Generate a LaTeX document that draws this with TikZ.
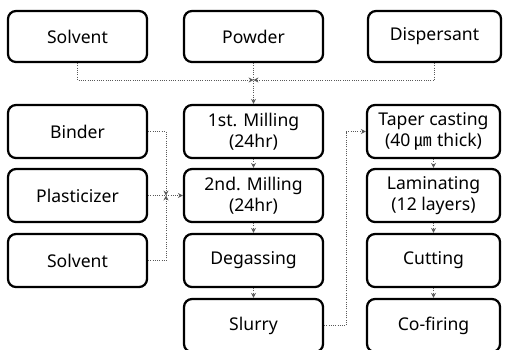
\documentclass[tikz,border=0pt]{standalone}
\usepackage{fontspec}
\setmainfont{Noto Sans}
\newfontfamily\cjk{Noto Sans CJK KR}
\usetikzlibrary{arrows.meta,calc,positioning}

\begin{document}
\begin{tikzpicture}[x=0.25mm,y=-0.25mm,>={Stealth[length=3.5pt,width=3.5pt]},
  stepbox/.style={draw,line width=1.6pt,rounded corners=2mm,minimum width=34.75mm,
    minimum height=13.25mm,align=center,inner sep=1pt,
    font=\fontsize{12.5}{15}\selectfont},
  flow/.style={black!65,densely dotted,line width=0.6pt}]
\useasboundingbox (0,0) rectangle (507,349);

% =========================================================
% Raw materials
% =========================================================
\node[stepbox,minimum height=12.75mm] (solventTop) at (77.5,36.5) {Solvent};
\node[stepbox,minimum height=12.75mm] (powder) at (253.5,36.5) {Powder};
\node[stepbox,minimum height=12.75mm,minimum width=33.25mm] (dispersant) at (434.5,36.5) {Dispersant};

% Additives
\node[stepbox] (binder) at (77.5,131.5) {Binder};
\node[stepbox] (plasticizer) at (77.5,195.5) {Plasticizer};
\node[stepbox] (solventSide) at (77.5,260.5) {Solvent};

% =========================================================
% Slurry preparation
% =========================================================
\node[stepbox] (mill1) at (253.5,131.5) {1st. Milling\\(24hr)};
\node[stepbox] (mill2) at (253.5,195.5) {2nd. Milling\\(24hr)};
\node[stepbox] (degas) at (253.5,260.5) {Degassing};
\node[stepbox] (slurry) at (253.5,325.5) {Slurry};

% Sheet process
\node[stepbox,minimum width=33.25mm] (taper) at (433.5,131.5) {Taper casting\\(40 {\cjk ㎛} thick)};
\node[stepbox,minimum width=33.25mm] (laminate) at (433.5,195.5) {Laminating\\(12 layers)};
\node[stepbox,minimum width=33.25mm] (cutting) at (433.5,260.5) {Cutting};
\node[stepbox,minimum width=33.25mm] (cofire) at (433.5,325.5) {Co-firing};

% Joins
\coordinate (topJoin) at (253.5,80);
\coordinate (sideJoin) at (166,195.5);

\draw[flow,->] (solventTop.south) |- (topJoin);
\draw[flow,->] (dispersant.south) |- (topJoin);
\draw[flow,->] (powder) -- (mill1);

\draw[flow,->] (binder.east) -| (sideJoin);
\draw[flow,->] (solventSide.east) -| (sideJoin);
\draw[flow,->] (plasticizer) -- (mill2);

% Steps
\foreach \a/\b in {mill1/mill2,mill2/degas,degas/slurry,taper/laminate,laminate/cutting,cutting/cofire}
  \draw[flow,->] (\a) -- (\b);

\draw[flow,->] (slurry.east) -- ++(22,0) |- (taper.west);

\end{tikzpicture}
\end{document}
